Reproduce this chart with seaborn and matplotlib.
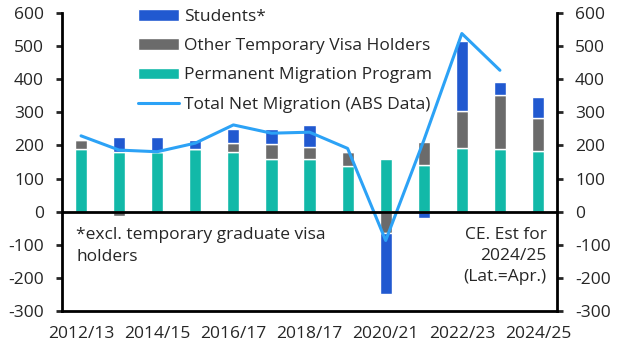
import numpy as np
import pandas as pd
import matplotlib
matplotlib.use("Agg")
import matplotlib.pyplot as plt
import seaborn as sns

# data (thousands of people)
years = ["2012/13", "2013/14", "2014/15", "2015/16", "2016/17", "2017/18", "2018/19",
         "2019/20", "2020/21", "2021/22", "2022/23", "2023/24", "2024/25"]
permanent = [190, 181, 181, 190, 180, 159, 159, 139, 159, 141, 193, 189, 183]
other_temp = [27, -13, 0, 0, 28, 46, 37, 40, -65, 69, 111, 163, 100]
students = [0, 43, 43, 27, 42, 45, 66, 4, -183, -20, 211, 39, 63]
total_nom = [229, 186, 181, 207, 262, 237, 240, 191, -87, 215, 538, 427]

tick_labels = ["2012/13", "2014/15", "2016/17", "2018/17", "2020/21", "2022/23", "2024/25"]

c_students = "#2159D0"
c_other = "#6B6B6B"
c_perm = "#12B9A8"
c_line = "#2CA2F6"

sns.set_theme(style="white")
plt.rcParams["font.family"] = ["Open Sans", "DejaVu Sans"]
plt.rcParams["axes.unicode_minus"] = False

df = pd.DataFrame({"year": years, "permanent": permanent,
                   "other": other_temp, "students": students})

# stack positives upward and negatives downward, like the spreadsheet chart
pos = np.zeros(len(df))
neg = np.zeros(len(df))
bottoms = {}
for col in ["permanent", "other", "students"]:
    v = df[col].to_numpy(dtype=float)
    b = np.where(v >= 0, pos, neg)
    bottoms[col] = b
    pos = pos + np.clip(v, 0, None)
    neg = neg + np.clip(v, None, 0)

fig = plt.figure(figsize=(6.29, 3.61), dpi=100)
ax = fig.add_axes([0.0986, 0.1385, 0.787, 0.8255])

layers = [("permanent", c_perm, "Permanent Migration Program"),
          ("other", c_other, "Other Temporary Visa Holders"),
          ("students", c_students, "Students*")]
for col, color, lab in layers:
    sns.barplot(data=df, x="year", y=col, order=years, color=color, width=0.32,
                bottom=bottoms[col], saturation=1, ax=ax, label=lab)

sns.lineplot(x=np.arange(len(total_nom)), y=total_nom, color=c_line, lw=2.2,
             ax=ax, label="Total Net Migration (ABS Data)")

ax.axhline(0, color="black", lw=2, zorder=5)
ax.set_ylim(-300, 600)
ax.set_yticks(range(-300, 601, 100))
ax.set_xlim(-0.5, len(years) - 0.5)
ax.set_xticks(np.arange(-0.5, 12, 2))
ax.set_xticklabels([])
ax.set_xticks(np.arange(0, 13, 2), minor=True)
ax.set_xticklabels(tick_labels, minor=True)
ax.tick_params(axis="x", which="minor", length=0, pad=11, labelsize=12.5)
ax.tick_params(axis="x", which="major", length=5, width=2, direction="out")
ax.tick_params(axis="y", length=4, width=2, direction="out", labelsize=12.5,
               right=True, labelright=True, left=True, pad=9)
ax.set_xlabel("")
ax.set_ylabel("")
for side in ["left", "right", "bottom"]:
    ax.spines[side].set_linewidth(2)
    ax.spines[side].set_color("black")
ax.spines["top"].set_visible(False)

# legend: students, other, permanent, line
h, l = ax.get_legend_handles_labels()
order = [l.index("Students*"), l.index("Other Temporary Visa Holders"),
         l.index("Permanent Migration Program"),
         l.index("Total Net Migration (ABS Data)")]
ax.legend([h[i] for i in order], [l[i] for i in order], frameon=False,
          loc="upper left", bbox_to_anchor=(138 / 629, 1 - 9 / 361),
          bbox_transform=fig.transFigure, borderpad=0, borderaxespad=0,
          fontsize=12.5, handlelength=2.36, handleheight=0.63, handletextpad=0.3,
          labelspacing=0.76)

ax.text(-0.12, -45, "*excl. temporary graduate visa\nholders", ha="left", va="top",
        fontsize=12.5, linespacing=1.5)
ax.text(12.22, -45, "CE. Est for\n2024/25\n(Lat.=Apr.)", ha="right", va="top",
        fontsize=12.5, linespacing=1.45)

fig.savefig("out.png", dpi=100)
